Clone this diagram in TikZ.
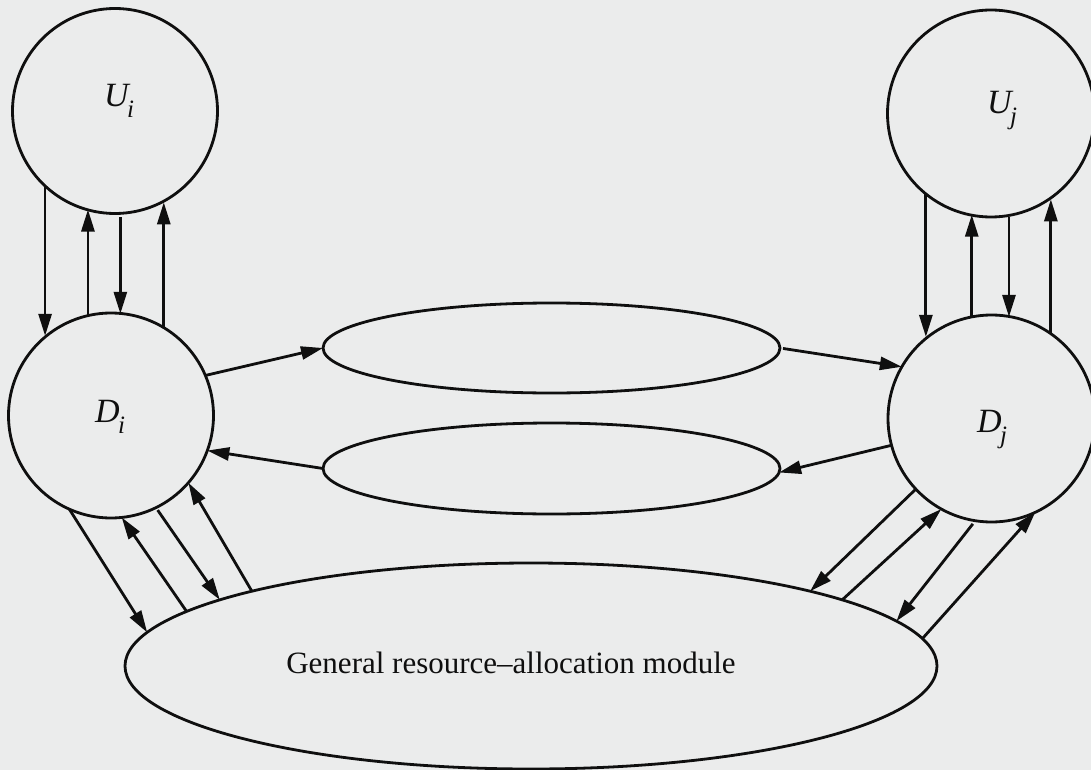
\documentclass[tikz,border=0pt]{standalone}
\usepackage{fontspec}
\setmainfont{Liberation Serif}
\usetikzlibrary{arrows.meta,shapes.geometric}
\definecolor{bg}{RGB}{235,236,236}
\definecolor{ink}{RGB}{15,15,15}
\newcommand{\lowsub}[1]{\kern-1.5pt\raisebox{-11pt}{\fontsize{25}{25}\selectfont #1}}
\tikzset{
  ln/.style={line width=2.8pt, draw=ink},
  circ/.style={circle, ln, inner sep=0pt, outer sep=0pt},
  ell/.style={ellipse, ln, inner sep=0pt, outer sep=0pt},
  arr/.style={ln, -{Triangle[length=22pt,width=13pt]}},
  lbl/.style={inner sep=0pt, outer sep=0pt, anchor=base west, text=ink,
    font=\fontsize{34}{34}\selectfont\itshape},
  txt/.style={inner sep=0pt, outer sep=0pt, anchor=base, text=ink,
    font=\fontsize{31}{31}\selectfont},
}
\begin{document}
\begin{tikzpicture}[x=1pt,y=-1pt]
\fill[bg] (0,0) rectangle (1091,770);
\useasboundingbox (0,0) rectangle (1091,770);

% circles
\node[circ, minimum size=205pt] (Ui) at (115,111) {};
\node[circ, minimum size=205pt] (Di) at (111,415.5) {};
\node[circ, minimum size=207pt] (Uj) at (991,113.5) {};
\node[circ, minimum size=207pt] (Dj) at (991.5,418.5) {};

% ellipses
\node[ell, minimum width=457pt, minimum height=90pt] (E1) at (551.5,348) {};
\node[ell, minimum width=457pt, minimum height=91pt] (E2) at (551.5,468.5) {};
\node[ell, minimum width=812pt, minimum height=206pt] (G) at (531,666) {};

% labels
\node[lbl] (Uil) at (104,107) {U\lowsub{i}};
\node[lbl] (Dil) at (95,422) {D\lowsub{i}};
\node[lbl] (Ujl) at (987,114) {U\lowsub{j}};
\node[lbl] (Djl) at (977,432) {D\lowsub{j}};
\node[txt] (Gl) at (511,673) {General resource--allocation module};

% Ui -- Di
\draw[arr] (Ui.227.4) -- (Ui.227.4 |- Di.129.8);
\draw[arr] (Di.103.6) -- (Di.103.6 |- Ui.254.1);
\draw[arr, shorten <=4pt] (Ui.273.9) -- (Ui.273.9 |- Di.83.8);
\draw[arr] (Di.59.5) -- (Di.59.5 |- Ui.297.9);

% Uj -- Dj
\draw[arr] (Uj.231.8) -- (Uj.231.8 |- Dj.128.6);
\draw[arr] (Dj.101.4) -- (Dj.101.4 |- Uj.258.9);
\draw[arr, shorten <=2pt] (Uj.280.6) -- (Uj.280.6 |- Dj.79.7);
\draw[arr] (Dj.55.6) -- (Dj.55.6 |- Uj.304.4);

% Di/Dj -- middle ellipses
\draw[arr] (Di.23.9) -- (E1.west);
\draw[arr] (E2.west) -- (Di.-20.8);
\draw[arr, shorten <=3pt] (E1.east) -- (Dj.150.7);
\draw[arr] (Dj.195.2) -- (E2.-1);

% Di -- G
\draw[arr] (Di.246.5) -- (G.175.3);
\draw[arr] (G.171.5) -- (Di.276.3);
\draw[arr, shorten <=3pt] (Di.296.9) -- (G.168.6);
\draw[arr] (G.165) -- (Di.319.7);

% Dj -- G
\draw[arr] (Dj.223.1) -- (G.15.8);
\draw[arr] (G.12.1) -- (Dj.241.3);
\draw[arr, shorten <=4pt] (Dj.261.7) -- (G.7.5);
\draw[arr] (G.4.8) -- (Dj.295.4);
\end{tikzpicture}
\end{document}
